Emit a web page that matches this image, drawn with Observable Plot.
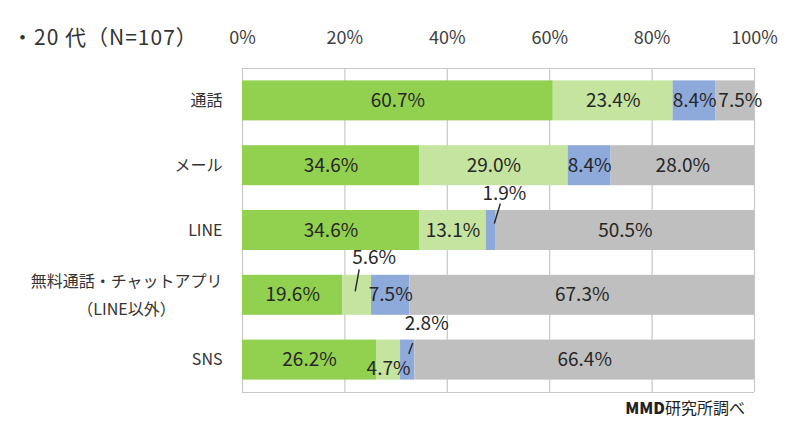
<!DOCTYPE html>
<html><head><meta charset="utf-8">
<script src="https://cdn.jsdelivr.net/npm/d3@7"></script>
<script src="https://cdn.jsdelivr.net/npm/@observablehq/plot@0.6"></script>
<style>
body{margin:0;background:#fff;}
#wrap{position:relative;width:800px;height:423px;font-family:"Noto Sans CJK JP",sans-serif;color:#333;}
#title{position:absolute;left:12px;top:26px;font-size:21px;line-height:1;letter-spacing:1px;white-space:nowrap;color:#333;}
#caption{position:absolute;right:55px;top:399px;font-size:16px;line-height:1;white-space:nowrap;color:#222;}
#caption b{font-weight:900;}
</style></head><body>
<div id="wrap"><div id="chart"></div><div id="title">・20 代（N=107）</div><div id="caption"><b>MMD</b>研究所調べ</div></div>
<script>
// ---- data ----
const categories = ["通話", "メール", "LINE", "無料通話・チャットアプリ（LINE以外）", "SNS"];
const categoryLine1 = ["通話", "メール", "LINE", "無料通話・チャットアプリ", "SNS"];
const categoryLine2 = ["", "", "", "（LINE以外）", ""];
const seriesNames = ["s1", "s2", "s3", "s4"];
const seriesA = [60.7, 34.6, 34.6, 19.6, 26.2];
const seriesB = [23.4, 29.0, 13.1, 5.6, 4.7];
const seriesC = [8.4, 8.4, 1.9, 7.5, 2.8];
const seriesD = [7.5, 28.0, 50.5, 67.3, 66.4];
const xTicks = [0, 20, 40, 60, 80, 100];
const colors = ["#92D050", "#C4E4A0", "#8EAADB", "#BFBFBF"];

// ---- layout / annotation styling ----
const W = 800, H = 423, mL = 242, mR = 46, mT = 68, mB = 31;
const pxX = 100 / (W - mL - mR);            // data units per pixel (x)
const pxY = 5 / (H - mT - mB);              // data units per pixel (y)
const barHalf = 20 * pxY;
// label offsets (pixels) for small segments: [category index, series index, dx, dy, leader line]
const callouts = [
  [0, 3, 5, 0, null],
  [2, 2, 13, -37, [9, -27, 3, -7]],
  [3, 1, 17, -37, [2, -26, -2, -4]],
  [4, 2, 19, -36, [5, -17, 1, -6]],
  [4, 1, 0, 9, null]
];

const allSeries = [seriesA, seriesB, seriesC, seriesD];
const rows = [];
categories.forEach((c, i) => {
  const vals = allSeries.map(s => s[i]);
  const tot = d3.sum(vals);
  let acc = 0;
  vals.forEach((v, j) => {
    const x1 = acc / tot * 100; acc += v; const x2 = acc / tot * 100;
    const co = callouts.find(k => k[0] === i && k[1] === j);
    rows.push({cat: c, idx: i, series: seriesNames[j], value: v, x1, x2, mid: (x1 + x2) / 2,
      lx: (x1 + x2) / 2 + (co ? co[2] : 0) * pxX, ly: i + (co ? co[3] : 0) * pxY, line: co ? co[4] : null});
  });
});
const leaders = rows.filter(r => r.line).map(r => ({
  x1: r.mid + r.line[0] * pxX, y1: r.idx + r.line[1] * pxY,
  x2: r.mid + r.line[2] * pxX, y2: r.idx + r.line[3] * pxY
}));
const catRows = categories.map((c, i) => ({i, l1: categoryLine1[i], l2: categoryLine2[i]}));

const plot = Plot.plot({
  width: W, height: H,
  marginLeft: mL, marginRight: mR, marginTop: mT, marginBottom: mB,
  style: {fontFamily: "'Noto Sans CJK JP', sans-serif", fontSize: "18px", color: "#404040", background: "#fff"},
  x: {domain: [0, 100], axis: "top", ticks: xTicks, tickFormat: d => d + "%", tickSize: 0, tickPadding: 25, label: null},
  y: {domain: [-0.5, 4.5], reverse: true, axis: null},
  color: {domain: seriesNames, range: colors},
  marks: [
    Plot.ruleX(xTicks, {stroke: "#c8c8c8", strokeWidth: 1.2}),
    Plot.ruleY([-0.5, 4.5], {stroke: "#c8c8c8", strokeWidth: 1.2}),
    Plot.rectX(rows, {x1: "x1", x2: "x2", y1: d => d.idx - barHalf, y2: d => d.idx + barHalf, fill: "series"}),
    Plot.text(rows, {x: "lx", y: "ly", text: d => d.value.toFixed(1) + "%", fill: "#262626", fontSize: 19}),
    Plot.link(leaders, {x1: "x1", y1: "y1", x2: "x2", y2: "y2", stroke: "#262626", strokeWidth: 1.4}),
    Plot.text(catRows, {x: 0, y: d => d.l2 ? d.i - 13 * pxY : d.i, text: "l1", textAnchor: "end", dx: -20, fill: "#333", fontSize: 16}),
    Plot.text(catRows.filter(d => d.l2), {x: 0, y: d => d.i + 15 * pxY, text: "l2", textAnchor: "middle", dx: -116, fill: "#333", fontSize: 16})
  ]
});
document.getElementById("chart").appendChild(plot);
</script>
</body></html>
